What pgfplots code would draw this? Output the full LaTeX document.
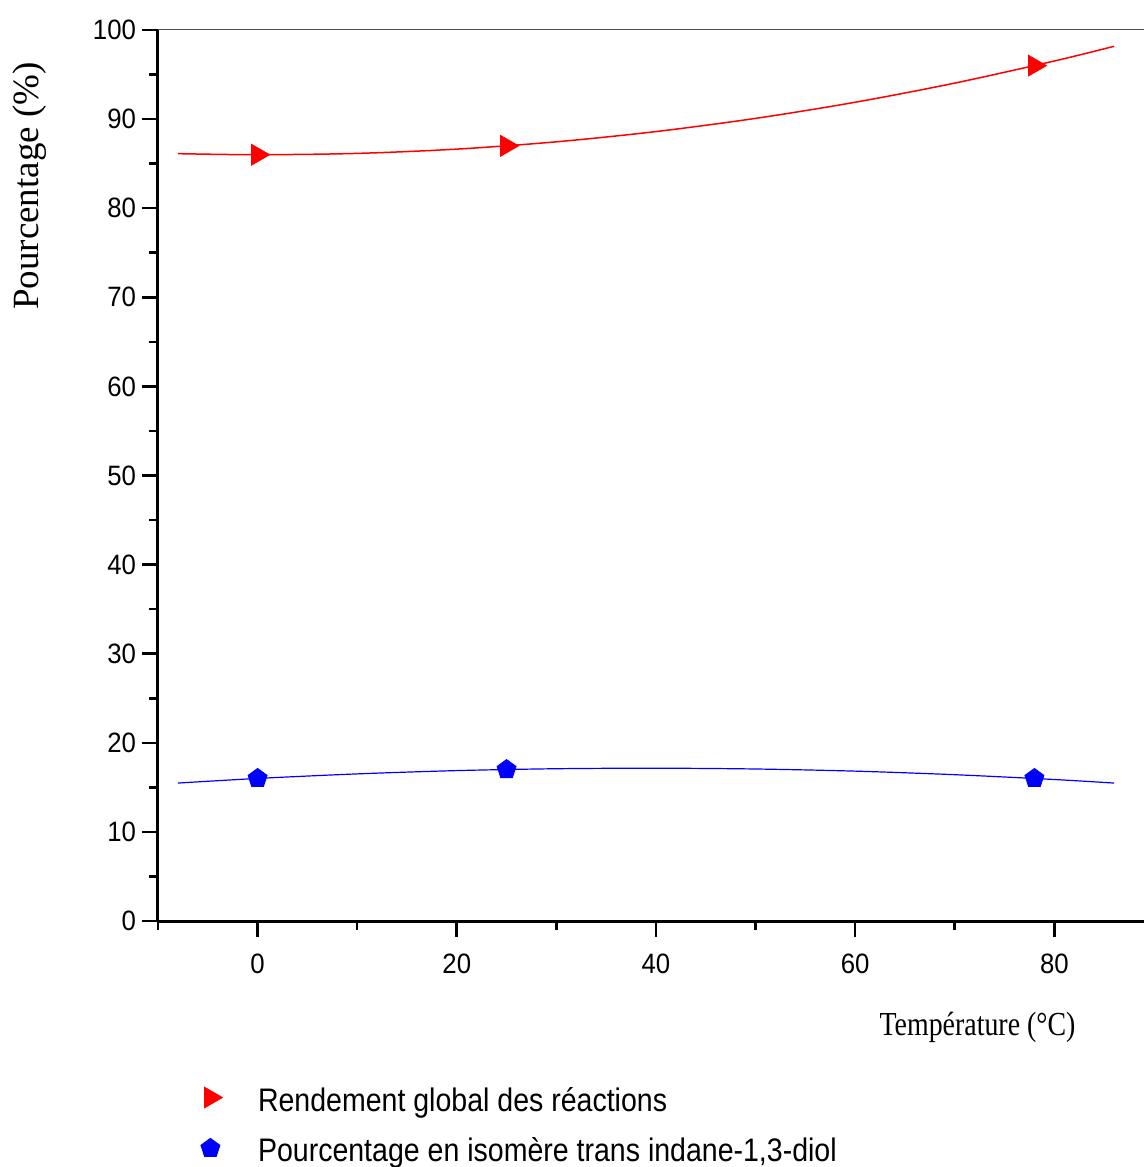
\documentclass[border=0pt]{standalone}
\usepackage{fontspec}
\usepackage{pgfplots}
\pgfplotsset{compat=1.18}
\newfontfamily\sansf{Liberation Sans}
\newfontfamily\ticksf[FakeStretch=0.92]{Liberation Sans}
\newfontfamily\seriff{Liberation Serif}
\newfontfamily\condserif[FakeStretch=0.83]{Liberation Serif}
\newfontfamily\condsans[FakeStretch=0.875]{Liberation Sans}
\definecolor{myred}{RGB}{255,0,0}
\definecolor{myblue}{RGB}{0,0,255}
\begin{document}
\begin{tikzpicture}
\useasboundingbox (-79pt,-123pt) rectangle (493pt,460.5pt);
\begin{axis}[
  at={(0,0)}, anchor=south west,
  scale only axis, width=493pt, height=445.5pt,
  xmin=-10, xmax=89, ymin=0, ymax=100,
  axis x line*=bottom, axis y line*=left,
  axis line style={line width=1.5pt, -},
  xtick={0,20,...,80}, minor xtick={-10,10,30,50,70},
  ytick={0,10,...,100}, minor ytick={5,15,...,95},
  tick align=outside, major tick length=8pt, minor tick length=4.5pt,
  every tick/.style={black, line width=1.3pt},
  /pgf/number format/assume math mode=true,
  tick label style={font=\ticksf\fontsize{14pt}{17pt}\selectfont},
  xticklabel style={yshift=-5pt},
  yticklabel style={xshift=0.5pt},
  legend style={draw=none, fill=none, inner sep=0pt,
    at={(rel axis cs:0.0355,-0.1814)}, anchor=north west,
    font=\condsans\fontsize{16.3pt}{19pt}\selectfont, row sep=7.9pt},
  legend image code/.code={%
    \path[draw=none,fill=none] (0pt,-8pt) rectangle (30.3pt,8pt);
    \draw[mark repeat=2,mark phase=2,yshift=1.5pt,#1] plot coordinates {(0pt,0pt) (8.5pt,0pt) (17pt,0pt)};},
  legend cell align=left,
  clip=false,
]
\draw[line width=0.5pt, black!70] (rel axis cs:0,1) -- (rel axis cs:1,1);
% fitted curves
\addplot[myred, line width=0.75pt, smooth, no marks, forget plot] coordinates {
(-8,86.12) (0,86.00) (10,86.15) (20,86.63) (30,87.45) (40,88.60) (50,90.08) (60,91.89) (70,94.04) (80,96.52) (86,98.17)};
\addplot[myblue, line width=0.6pt, smooth, no marks, forget plot] coordinates {
(-8,15.48) (0,16.00) (10,16.51) (20,16.88) (30,17.09) (40,17.15) (50,17.06) (60,16.82) (70,16.42) (80,15.88) (86,15.48)};
% data points
\addplot[only marks, mark=triangle*, mark size=6pt, mark options={rotate=-90, fill=myred, draw=myred}] coordinates {(0,86) (25,87) (78,96)};
\addlegendentry{Rendement global des réactions}
\addplot[only marks, mark=pentagon*, mark size=5pt, mark options={fill=myblue, draw=myblue}] coordinates {(0,16) (25,17) (78,16)};
\addlegendentry{Pourcentage en isomère trans indane-1,3-diol}
\end{axis}
\node[rotate=90, font=\seriff\fontsize{18.5pt}{22pt}\selectfont] at (-64pt,367.5pt) {Pourcentage (\%)};
\node[anchor=base, font=\condserif\fontsize{16.8pt}{20pt}\selectfont] at (409.75pt,-57pt) {Température (°C)};
\end{tikzpicture}
\end{document}
